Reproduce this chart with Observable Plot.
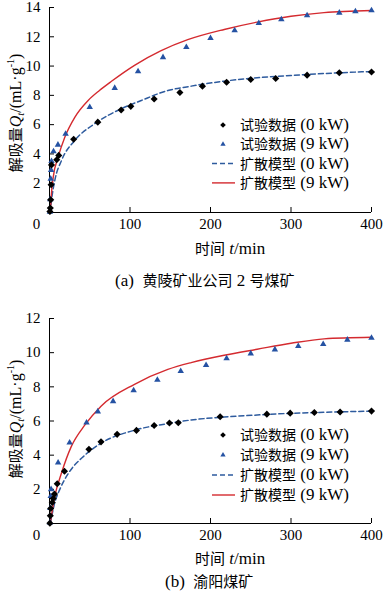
<!DOCTYPE html>
<html><head><meta charset="utf-8">
<script src="https://cdn.jsdelivr.net/npm/d3@7"></script>
<script src="https://cdn.jsdelivr.net/npm/@observablehq/plot@0.6"></script>
<style>
body{margin:0;background:#fff;width:385px;overflow:hidden;}
.cap{box-sizing:border-box;width:385px;text-align:left;color:#000;white-space:nowrap;}
.lat{font-family:"Liberation Serif","Times New Roman",serif;font-size:17px;}
.cjk{font-family:"Noto Sans CJK SC";font-size:15px;}
svg{display:block;}
</style></head><body>
<div id="a"></div>
<div class="cap" style="height:30px;padding-top:6px;line-height:24px;padding-left:115px"><span class="lat">(a)&nbsp;&nbsp;</span><span class="cjk">黄陵矿业公司</span><span class="lat">&nbsp;2&nbsp;</span><span class="cjk">号煤矿</span></div>
<div id="b"></div>
<div class="cap" style="height:22px;line-height:22px;padding-left:165px"><span class="lat">(b)&nbsp;&nbsp;</span><span class="cjk">渝阳煤矿</span></div>
<script>
// ---- data: panel (a) 黄陵矿业公司2号煤矿 ----
const tA0 = [0.5,1,1.5,2,2.5,9,11.5,30,60,89,101,130,162,190,220,250,281,320,360,400];
const qA0 = [0.07,0.3,0.87,1.9,3.25,3.6,3.9,5.0,6.17,7.0,7.25,7.75,8.2,8.63,8.9,9.08,9.15,9.38,9.54,9.6];
const tA9 = [0.5,1,1.5,2,2.5,5,10.5,20,50,81,110,141,170,200,230,260,288,320,360,380,400];
const qA9 = [0.05,0.9,2.3,2.9,3.5,4.17,4.62,5.37,7.19,8.5,9.63,10.6,11.29,11.9,12.43,12.93,13.18,13.46,13.64,13.73,13.8];
const tAm0 = [1,2.5,6.6,14.9,31.3,56,89,114,147,176,217,258,300,341,400];
const qAm0 = [0,0.82,2.19,3.55,4.92,6.06,7.08,7.65,8.33,8.63,8.97,9.2,9.36,9.49,9.63];
const tAm9 = [1,2,4.6,10.7,19,31.4,48,62,77,105.6,138.7,171.7,217,258,300,341,400];
const qAm9 = [0,1.0,2.4,3.78,5.14,6.5,7.65,8.33,8.96,10.05,11.05,11.8,12.5,13.0,13.4,13.65,13.8];
// ---- data: panel (b) 渝阳煤矿 ----
const tB0 = [0.5,1,1.5,3.4,4.6,6.2,9.6,18.6,49,64,84,108,130,149,160,212,270,299,329,361,400];
const qB0 = [0.02,0.45,0.88,1.23,1.46,1.72,2.33,3.06,4.34,4.78,5.22,5.45,5.74,5.88,5.9,6.25,6.4,6.46,6.5,6.53,6.58];
const tB9 = [0.5,1,1.5,2,10.7,25,46,60,79,104.5,134,163,194.5,220,250,280,309,340,370,400];
const qB9 = [0.05,0.9,1.6,2.0,3.56,4.73,5.9,6.55,7.15,7.79,8.4,8.92,9.27,9.66,9.95,10.18,10.38,10.5,10.75,10.86];
const tBm0 = [1,6.6,12.8,23,44,64,105.6,147,176,217,258,300,341,400];
const qBm0 = [0,1.23,2.0,2.9,4.0,4.7,5.46,5.85,6.06,6.23,6.35,6.45,6.51,6.58];
const tBm9 = [1,6.6,15,27,44,64,105.6,147,176,217,258,300,341,400];
const qBm9 = [0.05,1.6,2.97,4.5,5.77,6.87,8.15,9.02,9.42,9.85,10.2,10.55,10.81,10.9];
// ---- ticks / labels ----
const xTicks = [100,200,300,400];
const originTick = [0];
const yTicksA = [2,4,6,8,10,12,14];
const yTicksB = [2,4,6,8,10,12];
const legendLabels = [["试验数据"," (0 kW)"],["试验数据"," (9 kW)"],["扩散模型"," (0 kW)"],["扩散模型"," (9 kW)"]];

const SERIF = '"Liberation Serif","Times New Roman",serif';
const CJK = '"Noto Sans CJK SC",sans-serif';
const BLUE = "#2552a3", DASH = "#2e5b9e", RED = "#d42a2f";
const rows = (ts, qs) => ts.map((t,i)=>({t, q: qs[i]}));

function panel({height, marginTop, marginBottom, ymax, yTicks, d0, d9, m0, m9}) {
  return Plot.plot({
    width: 385, height, marginLeft: 49, marginRight: 14, marginTop, marginBottom,
    x: {domain: [0,400]}, y: {domain: [0,ymax]},
    style: {fontFamily: SERIF, fontSize: "15px", color: "#000", background: "#fff", overflow: "visible"},
    marks: [
      Plot.axisX(xTicks, {tickSize: -5, tickFormat: () => "", label: null}),
      Plot.axisX(xTicks, {tickSize: 0, tickPadding: 6, label: null}),
      Plot.axisX(originTick, {tickSize: 0, tickPadding: 6, dx: -13, label: null}),
      Plot.axisY(yTicks, {tickSize: -5, tickFormat: () => "", label: null}),
      Plot.axisY(yTicks, {tickSize: 0, tickPadding: 9, label: null}),
      Plot.ruleX([0], {stroke: "#000"}),
      Plot.ruleY([0], {stroke: "#000"}),
      Plot.line(rows(...m0), {x: "t", y: "q", curve: "monotone-x", stroke: DASH, strokeWidth: 1.5, strokeDasharray: "5,3"}),
      Plot.line(rows(...m9), {x: "t", y: "q", curve: "monotone-x", stroke: RED, strokeWidth: 1.4}),
      Plot.dot(rows(...d9), {x: "t", y: "q", symbol: "triangle", r: 2.4, fill: BLUE, stroke: "none"}),
      Plot.dot(rows(...d0), {x: "t", y: "q", symbol: "diamond2", r: 3.2, fill: "#000", stroke: "none"})
    ]
  });
}

function decorate(svg, {xTitleY, yTitleY, legendY, legendDy}) {
  const s = d3.select(svg);
  s.selectAll("text").style("font-family", SERIF).style("font-size", "15px");
  const sp = (sel, font, size, txt) => sel.append("tspan").style("font-family", font).style("font-size", size + "px").text(txt);
  // x title
  const xt = s.append("text").attr("x", 195).attr("y", xTitleY).attr("fill", "#000").attr("text-anchor", "start");
  sp(xt, CJK, 15, "时间");
  sp(xt, SERIF, 17, " ");
  sp(xt, SERIF, 17, "t").style("font-style", "italic");
  sp(xt, SERIF, 17, "/min");
  // y title
  const yt = s.append("text").attr("transform", `translate(21,${yTitleY}) rotate(-90)`).attr("text-anchor", "middle").attr("fill", "#000");
  sp(yt, CJK, 15, "解吸量");
  sp(yt, SERIF, 16, "Q").style("font-style", "italic");
  sp(yt, SERIF, 11, "t").style("font-style", "italic").attr("dy", 3);
  sp(yt, SERIF, 16, "/(mL·g").attr("dy", -3);
  sp(yt, SERIF, 10, "-1").attr("dy", -7);
  sp(yt, SERIF, 16, ")").attr("dy", 7);
  // legend
  const g = s.append("g").attr("text-anchor", "start");
  legendLabels.forEach((lab, i) => {
    const y = legendY + i * legendDy;
    if (i === 0) g.append("path").attr("d", d3.symbol(d3.symbolDiamond2, 20)()).attr("transform", `translate(223,${y})`).attr("fill", "#000");
    if (i === 1) g.append("path").attr("d", d3.symbol(d3.symbolTriangle, 12)()).attr("transform", `translate(223,${y})`).attr("fill", BLUE);
    if (i === 2) g.append("line").attr("x1", 212).attr("x2", 235).attr("y1", y).attr("y2", y).attr("stroke", DASH).attr("stroke-width", 1.5).attr("stroke-dasharray", "5,3");
    if (i === 3) g.append("line").attr("x1", 212).attr("x2", 235).attr("y1", y).attr("y2", y).attr("stroke", RED).attr("stroke-width", 1.4);
    const tx = g.append("text").attr("x", 240).attr("y", y + 5).attr("fill", "#000").attr("text-anchor", "start");
    sp(tx, CJK, 14, lab[0]);
    sp(tx, SERIF, 17, lab[1]);
  });
}

const svgA = panel({height: 262, marginTop: 7, marginBottom: 50, ymax: 14, yTicks: yTicksA,
  d0: [tA0, qA0], d9: [tA9, qA9], m0: [tAm0, qAm0], m9: [tAm9, qAm9]});
decorate(svgA, {xTitleY: 254, yTitleY: 113, legendY: 125, legendDy: 19.3});
document.getElementById("a").appendChild(svgA);

const svgB = panel({height: 278, marginTop: 26, marginBottom: 47, ymax: 12, yTicks: yTicksB,
  d0: [tB0, qB0], d9: [tB9, qB9], m0: [tBm0, qBm0], m9: [tBm9, qBm9]});
decorate(svgB, {xTitleY: 272, yTitleY: 127, legendY: 143, legendDy: 20});
document.getElementById("b").appendChild(svgB);
</script>
</body></html>
